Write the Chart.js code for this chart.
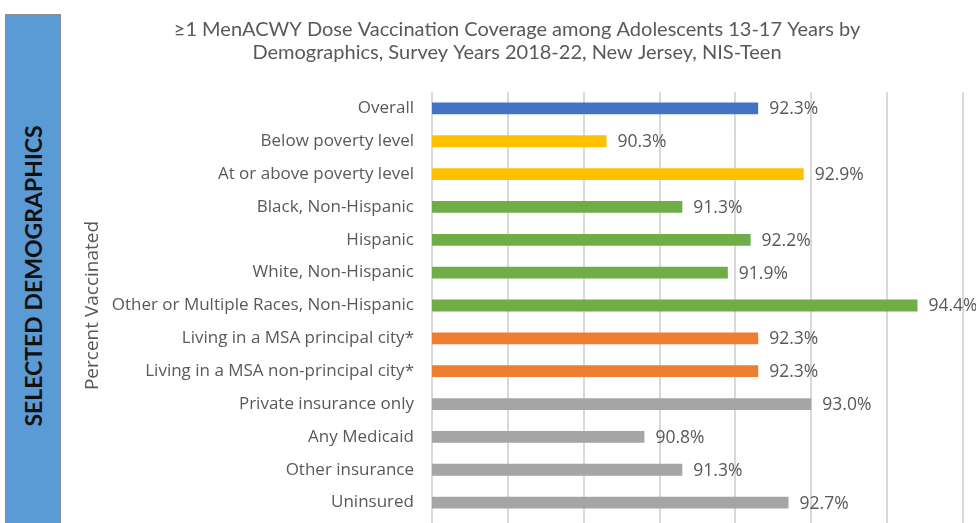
<!DOCTYPE html>
<html>
<head>
<meta charset="utf-8">
<script src="https://cdn.jsdelivr.net/npm/chart.js@4"></script>
<style>
  html, body { margin: 0; padding: 0; background: #fff; }
  #wrap { position: relative; width: 976px; height: 523px; overflow: hidden; }
  #chart { position: absolute; left: 0; top: 0; }
  #sideBox {
    position: absolute; left: 5px; top: 14px; width: 54px; height: 520px;
    background: #5b9bd5; border: 1px solid #8c8c8c;
  }
  #sideText {
    position: absolute; left: 33px; top: 276px; white-space: nowrap;
    transform: translate(-50%, -50%) rotate(-90deg);
    font: bold 23px Lato, sans-serif; color: #111;
  }
</style>
</head>
<body>
<div id="wrap">
  <canvas id="chart" width="976" height="523"></canvas>
  <div id="sideBox"></div>
  <div id="sideText">SELECTED DEMOGRAPHICS</div>
</div>
<script>
const categories = [
    'Overall',
    'Below poverty level',
    'At or above poverty level',
    'Black, Non-Hispanic',
    'Hispanic',
    'White, Non-Hispanic',
    'Other or Multiple Races, Non-Hispanic',
    'Living in a MSA principal city*',
    'Living in a MSA non-principal city*',
    'Private insurance only',
    'Any Medicaid',
    'Other insurance',
    'Uninsured'
];
const coverage = [92.3, 90.3, 92.9, 91.3, 92.2, 91.9, 94.4, 92.3, 92.3, 93.0, 90.8, 91.3, 92.7];
const groups = ['overall', 'poverty', 'poverty', 'race', 'race', 'race', 'race',
    'msa', 'msa', 'insurance', 'insurance', 'insurance', 'insurance'];

const groupColors = {
    overall: '#4472c4',
    poverty: '#ffc000',
    race: '#70ad47',
    msa: '#ed7d31',
    insurance: '#a5a5a5'
};
const textColor = '#595959';

// value labels to the right of each bar
const barLabels = {
    id: 'barLabels',
    afterDatasetsDraw(chart) {
        const ctx = chart.ctx;
        const meta = chart.getDatasetMeta(0);
        ctx.save();
        ctx.font = '17.5px "Open Sans", sans-serif';
        ctx.fillStyle = textColor;
        ctx.textAlign = 'left';
        ctx.textBaseline = 'middle';
        meta.data.forEach((bar, i) => {
            ctx.fillText(coverage[i].toFixed(1) + '%', bar.x + 11, bar.y + 1);
        });
        ctx.restore();
    }
};

new Chart(document.getElementById('chart'), {
    type: 'bar',
    data: {
        labels: categories,
        datasets: [{
            data: coverage,
            backgroundColor: groups.map(g => groupColors[g]),
            categoryPercentage: 1,
            barPercentage: 0.36
        }]
    },
    options: {
        indexAxis: 'y',
        responsive: false,
        animation: false,
        layout: { padding: { left: 71, right: 13, top: 0, bottom: 0 } },
        plugins: {
            legend: { display: false },
            tooltip: { enabled: false },
            title: {
                display: true,
                text: ['\u22651 MenACWY Dose Vaccination Coverage among Adolescents 13-17 Years by',
                       'Demographics, Survey Years 2018-22, New Jersey, NIS-Teen'],
                color: textColor,
                font: { family: 'Lato, sans-serif', size: 20, weight: 'normal', lineHeight: 1.15 },
                padding: { top: 18, bottom: 28 }
            }
        },
        scales: {
            x: {
                min: 88,
                max: 95,
                ticks: { display: false, stepSize: 1 },
                grid: { color: '#d9d9d9', lineWidth: 2, drawTicks: true, tickLength: 4 },
                border: { display: false }
            },
            y: {
                grid: { display: false, drawTicks: false },
                border: { display: false },
                ticks: { color: textColor, font: { family: '"Open Sans", sans-serif', size: 17 }, padding: 18 },
                title: {
                    display: true,
                    text: 'Percent Vaccinated',
                    color: textColor,
                    font: { family: '"Open Sans", sans-serif', size: 19 },
                    padding: { top: 10, bottom: 4 }
                },
                afterFit(scale) {
                    scale.width = 361;
                    // keep the plot area from shrinking for the label half-heights
                    scale.paddingTop = 0;
                    scale.paddingBottom = 0;
                }
            }
        }
    },
    plugins: [barLabels]
});
</script>
</body>
</html>
